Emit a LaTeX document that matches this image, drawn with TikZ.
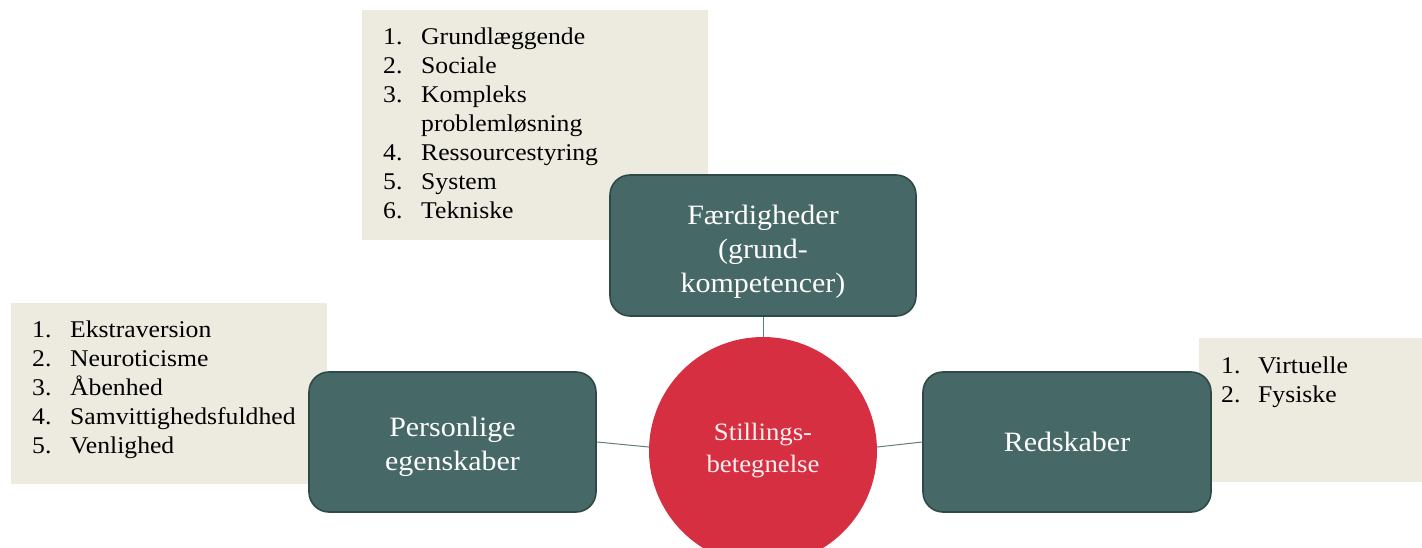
\documentclass[tikz,border=0pt]{standalone}
\usepackage{fontspec}
\setmainfont{Liberation Serif}[FakeStretch=1.07]
\definecolor{beige}{HTML}{EDEAE0}
\definecolor{tealbox}{HTML}{466866}
\definecolor{tealdark}{HTML}{2F4947}
\definecolor{redc}{HTML}{D72F42}
\definecolor{linec}{HTML}{5F7F7E}
\definecolor{pinkw}{HTML}{FBEFF0}
\newcommand{\num}[1]{\makebox[38pt][l]{#1}}
\begin{document}
\begin{tikzpicture}[x=1pt,y=-1pt,
  listbg/.style={fill=beige, draw=none, inner sep=0pt, anchor=north west},
  listtxt/.style={inner sep=0pt, anchor=north west, align=left, text=black, font=\fontsize{24}{29}\selectfont},
  tealnode/.style={draw=tealdark, line width=1.6pt, fill=tealbox, rounded corners=20pt, inner sep=0pt},
  boxtext/.style={text=white, align=center, font=\fontsize{28}{34}\selectfont, inner sep=0pt},
  conn/.style={draw=linec, line width=1pt}]
\useasboundingbox (0,0) rectangle (1422,548);
\clip (0,0) rectangle (1422,548);
% beige list backgrounds
\node[listbg, minimum width=346pt, minimum height=230pt] (bgtop) at (362,10) {};
\node[listbg, minimum width=316pt, minimum height=181pt] (bgleft) at (11,303) {};
\node[listbg, minimum width=223pt, minimum height=144pt] (bgright) at (1199,338) {};
% list texts
\node[listtxt] (ltop) at (383,27.5) {%
\num{1.}Grundlæggende\\
\num{2.}Sociale\\
\num{3.}Kompleks\\
\num{}problemløsning\\
\num{4.}Ressourcestyring\\
\num{5.}System\\
\num{6.}Tekniske};
\node[listtxt] (lleft) at (32,320.5) {%
\num{1.}Ekstraversion\\
\num{2.}Neuroticisme\\
\num{3.}Åbenhed\\
\num{4.}Samvittighedsfuldhed\\
\num{5.}Venlighed};
\node[listtxt] (lright) at (1221,356.5) {%
\makebox[37pt][l]{1.}Virtuelle\\
\makebox[37pt][l]{2.}Fysiske};
% main boxes
\node[tealnode, minimum width=306pt, minimum height=141pt] (fard) at (763,245.5) {};
\node[boxtext] (fardtxt) at ([yshift=-6pt]fard.center) {Færdigheder\\(grund-\\kompetencer)};
\node[tealnode, minimum width=287pt, minimum height=140pt] (pers) at (452.5,442) {};
\node[boxtext] (perstxt) at ([yshift=-5pt]pers.center) {Personlige\\egenskaber};
\node[tealnode, minimum width=288pt, minimum height=140pt] (red) at (1067,442) {};
\node[boxtext] (redtxt) at (red.center) {Redskaber};
% central circle
\node[circle, fill=redc, draw=none, minimum size=228pt, inner sep=0pt, text=pinkw, align=center, font=\fontsize{25}{32}\selectfont] (circ) at (763,451) {Stillings-\\betegnelse};
% connectors
\draw[conn] (fard.south) -- (circ.north);
\draw[conn] (pers.east) -- (circ.178);
\draw[conn] (circ.2) -- (red.west);
\end{tikzpicture}
\end{document}
